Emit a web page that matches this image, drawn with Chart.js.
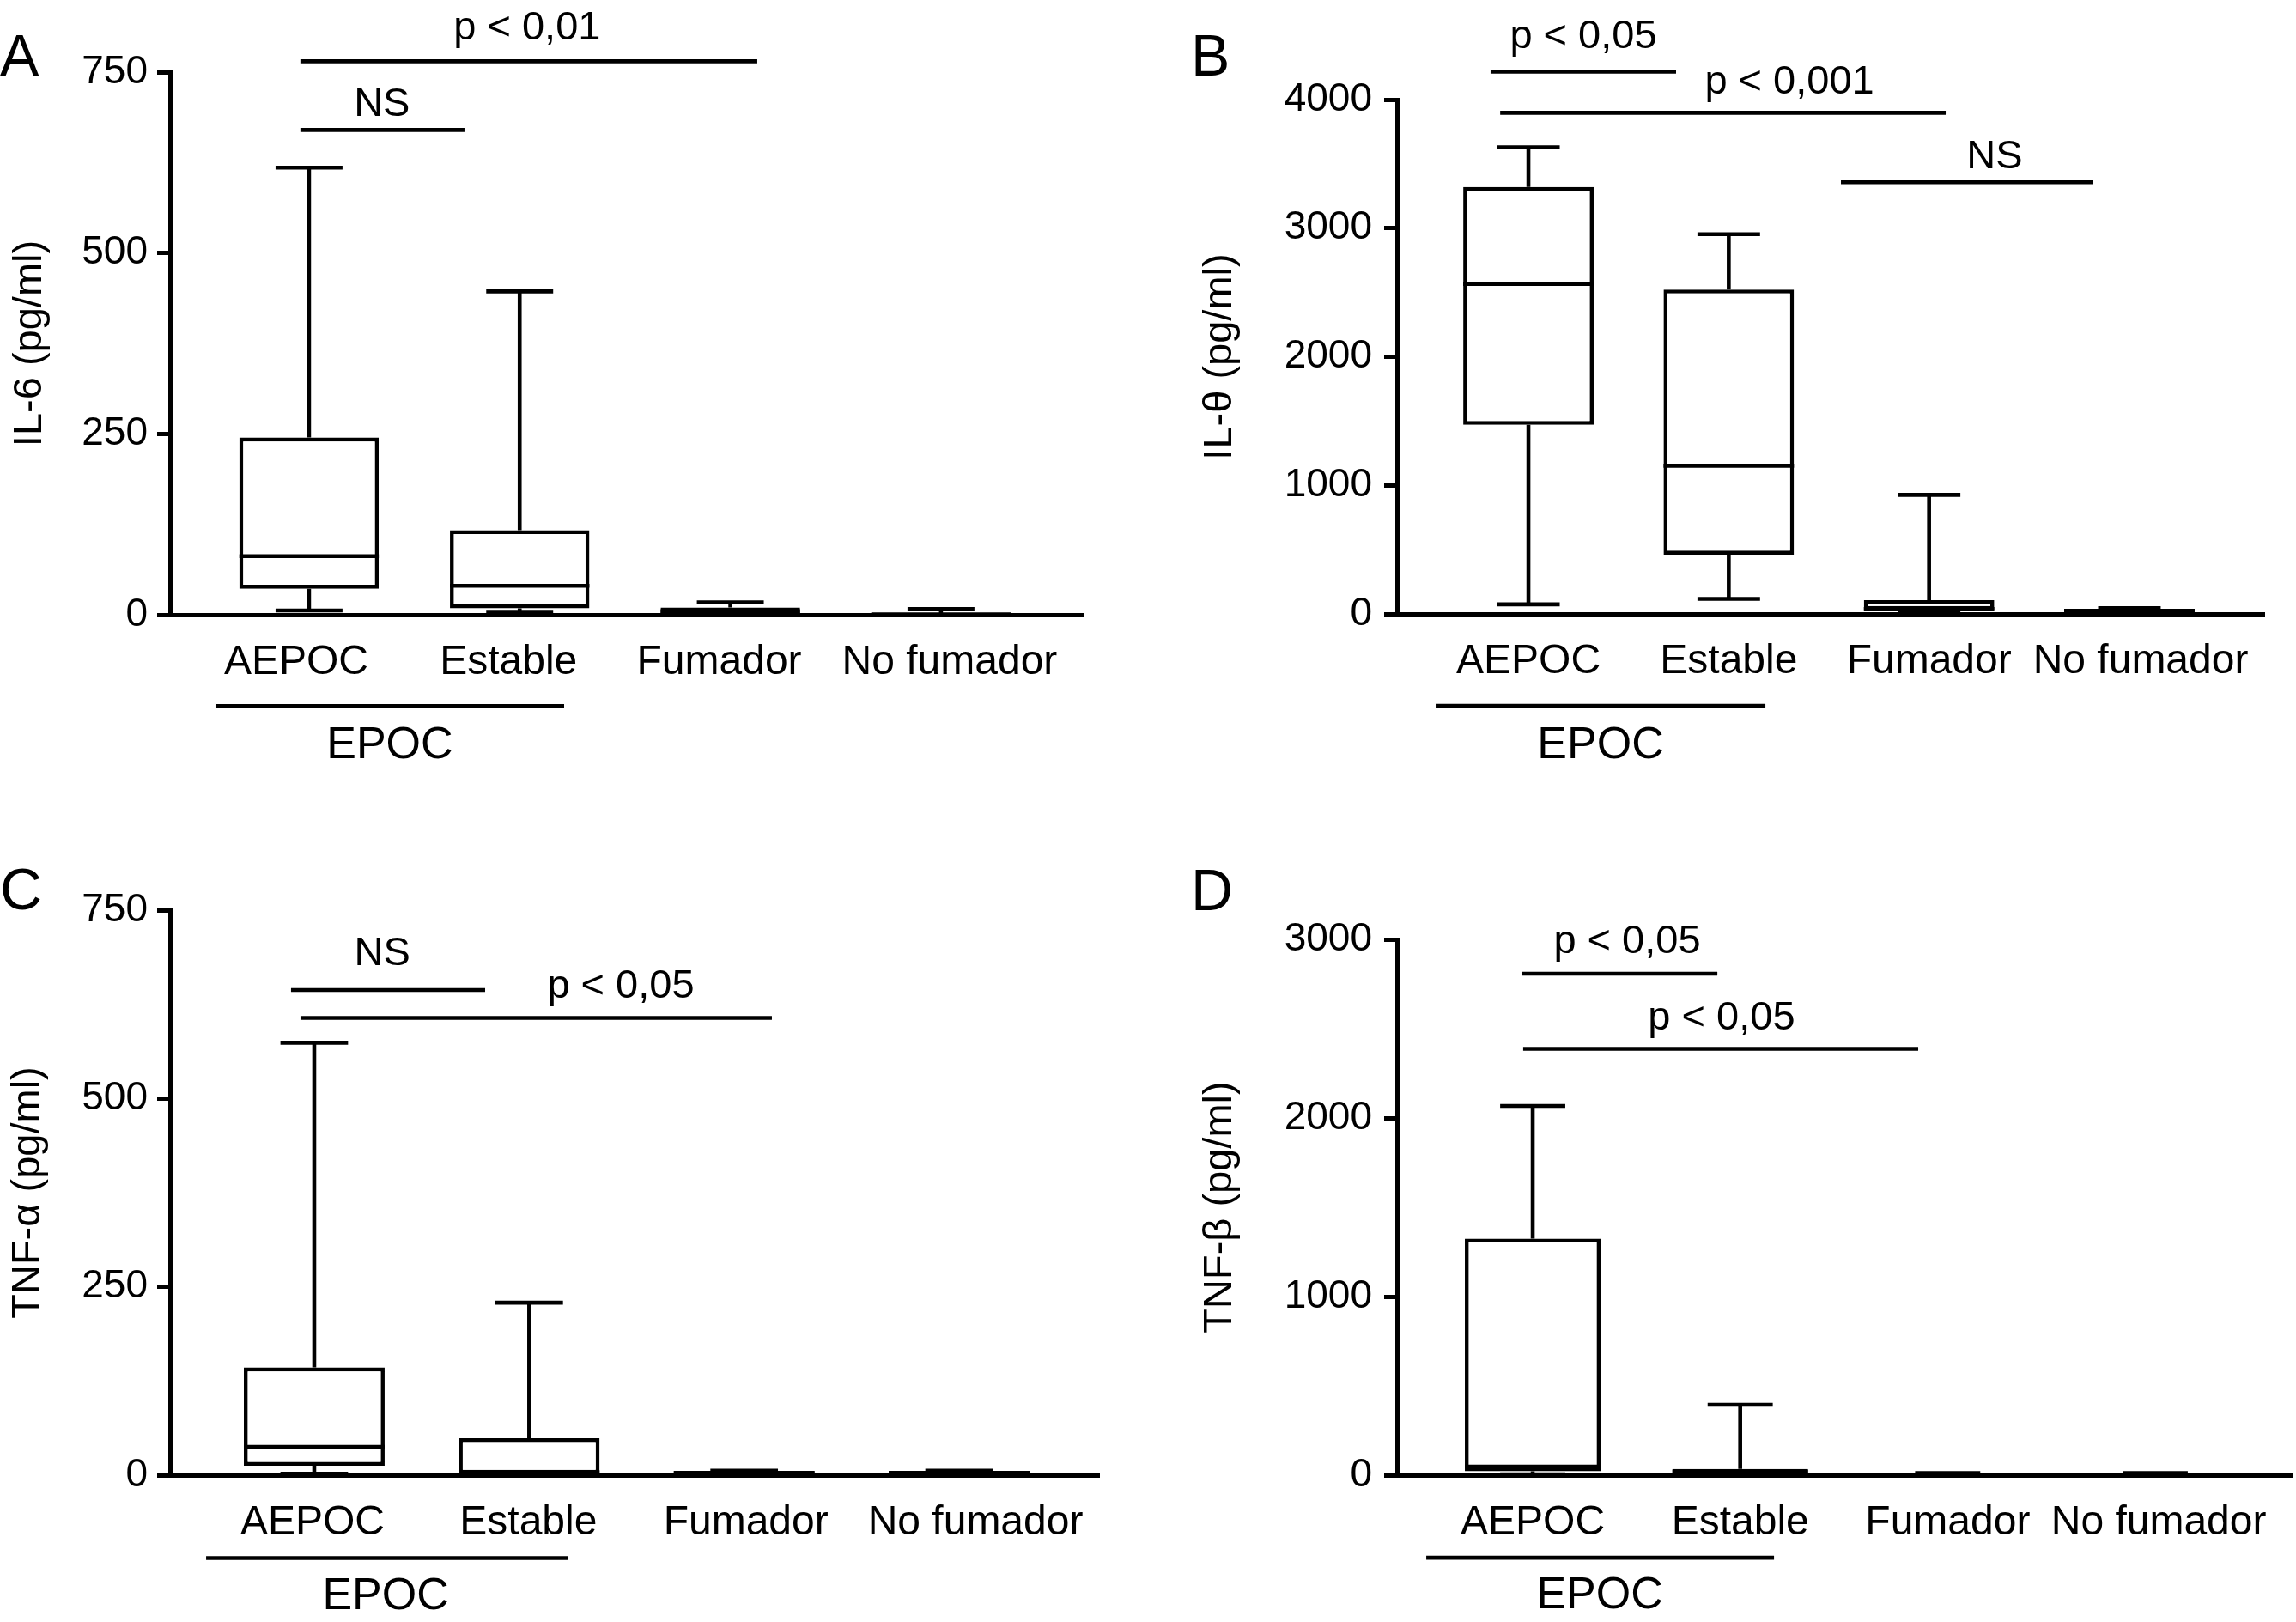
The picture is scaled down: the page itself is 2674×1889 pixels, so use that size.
<!DOCTYPE html>
<html>
<head>
<meta charset="utf-8">
<script src="https://cdn.jsdelivr.net/npm/chart.js@4.4.1/dist/chart.umd.min.js"></script>
<style>
  html, body { margin: 0; padding: 0; background: #ffffff; }
  body { width: 2674px; height: 1889px; position: relative; overflow: hidden; }
  .panel { position: absolute; }
  canvas { display: block; }
</style>
</head>
<body>
<div class="panel" style="left:0px;top:0px;"><canvas id="cA" width="1337" height="945" style="width:1337px;height:945px;"></canvas></div>
<div class="panel" style="left:1337px;top:0px;"><canvas id="cB" width="1337" height="945" style="width:1337px;height:945px;"></canvas></div>
<div class="panel" style="left:0px;top:945px;"><canvas id="cC" width="1337" height="944" style="width:1337px;height:944px;"></canvas></div>
<div class="panel" style="left:1337px;top:945px;"><canvas id="cD" width="1337" height="944" style="width:1337px;height:944px;"></canvas></div>
<script>
// ---------------- DATA ----------------
const categories = ['AEPOC', 'Estable', 'Fumador', 'No fumador'];

// Panel A: IL-6 (pg/ml)
const il6Min    = [6, 4, 1, 0];
const il6Q1     = [36, 9, 2, 0];
const il6Median = [81, 40, 5, 0.5];
const il6Q3     = [245, 117, 10, 1];
const il6Max    = [618, 447, 17, 8];
const il6Ticks  = [0, 250, 500, 750];

// Panel B: IL-θ (pg/ml)
const il8Min    = [74, 117, 10, 10];
const il8Q1     = [1470, 461, 31, 15];
const il8Median = [2566, 1153, 38, 25];
const il8Q3     = [3321, 2523, 107, 40];
const il8Max    = [3629, 2953, 926, 45];
const il8Ticks  = [0, 1000, 2000, 3000, 4000];

// Panel C: TNF-α (pg/ml)
const tnfaMin    = [2, 1, 1, 1];
const tnfaQ1     = [12.5, 2, 1.5, 1.5];
const tnfaMedian = [37.6, 4, 3, 3];
const tnfaQ3     = [143, 49, 5.5, 5.5];
const tnfaMax    = [574, 229, 6, 6];
const tnfaTicks  = [0, 250, 500, 750];

// Panel D: TNF-β (pg/ml)
const tnfbMin    = [5, 3, 0, 0];
const tnfbQ1     = [22, 8, 0, 0];
const tnfbMedian = [48, 20, 0.5, 0.5];
const tnfbQ3     = [1325, 35, 1, 1];
const tnfbMax    = [2067, 394, 12, 12];
const tnfbTicks  = [0, 1000, 2000, 3000];

// Significance annotations (x in category units 1..4, y in axis units)
const il6Signif = [
  { label: 'NS',       from: 0.959, to: 1.738, y: 670, textX: 1.346, textY: 705 },
  { label: 'p < 0,01', from: 0.959, to: 3.128, y: 765, textX: 2.035, textY: 811 }
];
const il8Signif = [
  { label: 'p < 0,05',  from: 0.811, to: 1.737, y: 4218, textX: 1.274, textY: 4485 },
  { label: 'p < 0,001', from: 0.859, to: 3.083, y: 3897, textX: 2.303, textY: 4131 },
  { label: 'NS',        from: 2.560, to: 3.816, y: 3357, textX: 3.327, textY: 3551 }
];
const tnfaSignif = [
  { label: 'NS',       from: 0.892, to: 1.795, y: 644, textX: 1.316, textY: 692 },
  { label: 'p < 0,05', from: 0.936, to: 3.129, y: 607, textX: 2.426, textY: 648 }
];
const tnfbSignif = [
  { label: 'p < 0,05', from: 0.946, to: 1.890, y: 2808, textX: 1.455, textY: 2986 },
  { label: 'p < 0,05', from: 0.954, to: 2.858, y: 2387, textX: 1.910, textY: 2558 }
];
// EPOC grouping bracket under AEPOC + Estable
const il6Group  = { label: 'EPOC', from: 0.556, to: 2.211, y: -126,  textX: 1.383, textY: -181 };
const il8Group  = { label: 'EPOC', from: 0.537, to: 2.183, y: -715,  textX: 1.360, textY: -1023 };
const tnfaGroup = { label: 'EPOC', from: 0.497, to: 2.179, y: -110,  textX: 1.332, textY: -161 };
const tnfbGroup = { label: 'EPOC', from: 0.487, to: 2.163, y: -462,  textX: 1.323, textY: -678 };

// ---------------- STYLE ----------------
const FONT = "'Liberation Sans', Arial, Helvetica, sans-serif";
const LINE_W = 4.6;
const AXIS_W = 5;
const CAP_FRAC = 0.48;

Chart.defaults.font.family = FONT;
Chart.defaults.color = '#000000';

function boxPlugin(stats) {
  return {
    id: 'boxWhisker',
    afterDatasetsDraw(chart) {
      const ctx = chart.ctx;
      const ys = chart.scales.y;
      const meta = chart.getDatasetMeta(0);
      ctx.save();
      ctx.strokeStyle = '#000000';
      ctx.lineWidth = LINE_W;
      ctx.lineCap = 'butt';
      meta.data.forEach((bar, i) => {
        const x = bar.x, w = bar.width, cw = w * CAP_FRAC;
        const pMin = ys.getPixelForValue(stats.min[i]);
        const pQ1 = ys.getPixelForValue(stats.q1[i]);
        const pMed = ys.getPixelForValue(stats.median[i]);
        const pQ3 = ys.getPixelForValue(stats.q3[i]);
        const pMax = ys.getPixelForValue(stats.max[i]);
        ctx.beginPath();
        ctx.moveTo(x, pQ3); ctx.lineTo(x, pMax);
        ctx.moveTo(x - cw / 2, pMax); ctx.lineTo(x + cw / 2, pMax);
        ctx.moveTo(x, pQ1); ctx.lineTo(x, pMin);
        ctx.moveTo(x - cw / 2, pMin); ctx.lineTo(x + cw / 2, pMin);
        ctx.moveTo(x - w / 2, pMed); ctx.lineTo(x + w / 2, pMed);
        ctx.stroke();
      });
      ctx.restore();
    }
  };
}

function annotPlugin(signif, group, letter, letterPos) {
  return {
    id: 'annotations',
    afterDraw(chart) {
      const ctx = chart.ctx;
      const xs = chart.scales.x, ys = chart.scales.y;
      ctx.save();
      ctx.fillStyle = '#000000';
      ctx.strokeStyle = '#000000';
      ctx.lineWidth = LINE_W;
      ctx.lineCap = 'butt';
      ctx.textAlign = 'center';
      ctx.textBaseline = 'middle';
      ctx.font = '47px ' + FONT;
      signif.forEach(b => {
        const y = ys.getPixelForValue(b.y);
        ctx.beginPath();
        ctx.moveTo(xs.getPixelForValue(b.from), y);
        ctx.lineTo(xs.getPixelForValue(b.to), y);
        ctx.stroke();
        ctx.fillText(b.label, xs.getPixelForValue(b.textX), ys.getPixelForValue(b.textY));
      });
      const gy = ys.getPixelForValue(group.y);
      ctx.beginPath();
      ctx.moveTo(xs.getPixelForValue(group.from), gy);
      ctx.lineTo(xs.getPixelForValue(group.to), gy);
      ctx.stroke();
      ctx.font = '52px ' + FONT;
      ctx.fillText(group.label, xs.getPixelForValue(group.textX), ys.getPixelForValue(group.textY));
      ctx.textAlign = 'left';
      ctx.textBaseline = 'alphabetic';
      ctx.font = '68px ' + FONT;
      ctx.fillText(letter, letterPos[0], letterPos[1]);
      ctx.restore();
    }
  };
}

function makePanel(p) {
  const data = categories.map((c, i) => ({ x: i + 1, y: [p.stats.q1[i], p.stats.q3[i]] }));
  return new Chart(document.getElementById(p.canvas), {
    type: 'bar',
    data: {
      datasets: [{
        data: data,
        backgroundColor: '#ffffff',
        borderColor: '#000000',
        borderWidth: LINE_W,
        borderSkipped: false,
        categoryPercentage: p.lay.barPct,
        barPercentage: 1.0
      }]
    },
    options: {
      responsive: false,
      animation: false,
      events: [],
      layout: { padding: { top: p.lay.padTop, right: p.lay.padRight, left: 0, bottom: 0 } },
      plugins: { legend: { display: false }, tooltip: { enabled: false }, title: { display: false } },
      scales: {
        x: {
          type: 'linear',
          position: 'bottom',
          min: p.lay.xMin,
          max: p.lay.xMax,
          offset: false,
          grid: { display: false },
          border: { display: true, color: '#000000', width: AXIS_W },
          afterBuildTicks: (scale) => {
            scale.ticks = categories.map((c, i) => ({ value: i + 1 + p.lay.labelShift[i] }));
          },
          afterFit: (scale) => { scale.height = p.lay.xHeight; },
          ticks: {
            autoSkip: false,
            maxRotation: 0,
            minRotation: 0,
            padding: 19,
            color: '#000000',
            font: { size: 48, family: FONT },
            callback: (v) => categories[Math.round(v) - 1] || ''
          }
        },
        y: {
          type: 'linear',
          position: 'left',
          min: p.ticks[0],
          max: p.ticks[p.ticks.length - 1],
          grid: {
            display: true,
            drawOnChartArea: false,
            drawTicks: true,
            tickLength: 15,
            tickWidth: AXIS_W,
            tickColor: '#000000',
            color: '#000000'
          },
          border: { display: true, color: '#000000', width: AXIS_W },
          afterBuildTicks: (scale) => { scale.ticks = p.ticks.map(v => ({ value: v })); },
          afterFit: (scale) => { scale.width = p.lay.yWidth; },
          ticks: {
            padding: p.lay.yTickPad,
            color: '#000000',
            font: { size: 46, family: FONT },
            callback: (v) => String(v)
          },
          title: {
            display: true,
            text: p.title,
            color: '#000000',
            font: { size: 47, family: FONT },
            padding: { top: p.lay.titlePad, bottom: 0 }
          }
        }
      }
    },
    plugins: [boxPlugin(p.stats), annotPlugin(p.signif, p.group, p.letter, p.lay.letterPos)]
  });
}

makePanel({
  canvas: 'cA', letter: 'A', title: 'IL-6 (pg/ml)', ticks: il6Ticks,
  stats: { min: il6Min, q1: il6Q1, median: il6Median, q3: il6Q3, max: il6Max },
  signif: il6Signif, group: il6Group,
  lay: { yWidth: 198, padRight: 76, padTop: 84, xHeight: 229, xMin: 0.340, xMax: 4.673,
         barPct: 0.662, yTickPad: 11, titlePad: 7, labelShift: [-0.061, -0.053, -0.053, 0.041],
         letterPos: [0, 88] }
});
makePanel({
  canvas: 'cB', letter: 'B', title: 'IL-θ (pg/ml)', ticks: il8Ticks,
  stats: { min: il8Min, q1: il8Q1, median: il8Median, q3: il8Q3, max: il8Max },
  signif: il8Signif, group: il8Group,
  lay: { yWidth: 290, padRight: 37, padTop: 116, xHeight: 230, xMin: 0.344, xMax: 4.673,
         barPct: 0.651, yTickPad: 14, titlePad: 56, labelShift: [0, 0, 0, 0.056],
         letterPos: [50, 88] }
});
makePanel({
  canvas: 'cC', letter: 'C', title: 'TNF-α (pg/ml)', ticks: tnfaTicks,
  stats: { min: tnfaMin, q1: tnfaQ1, median: tnfaMedian, q3: tnfaQ3, max: tnfaMax },
  signif: tnfaSignif, group: tnfaGroup,
  lay: { yWidth: 198, padRight: 57, padTop: 115, xHeight: 171, xMin: 0.329, xMax: 4.651,
         barPct: 0.655, yTickPad: 11, titlePad: 5, labelShift: [-0.008, -0.004, 0.008, 0.076],
         letterPos: [0, 114] }
});
makePanel({
  canvas: 'cD', letter: 'D', title: 'TNF-β (pg/ml)', ticks: tnfbTicks,
  stats: { min: tnfbMin, q1: tnfbQ1, median: tnfbMedian, q3: tnfbQ3, max: tnfbMax },
  signif: tnfbSignif, group: tnfbGroup,
  lay: { yWidth: 290, padRight: 5, padTop: 149, xHeight: 171, xMin: 0.346, xMax: 4.658,
         barPct: 0.654, yTickPad: 14, titlePad: 56, labelShift: [0, 0, 0, 0.017],
         letterPos: [50, 115] }
});
</script>
</body>
</html>
